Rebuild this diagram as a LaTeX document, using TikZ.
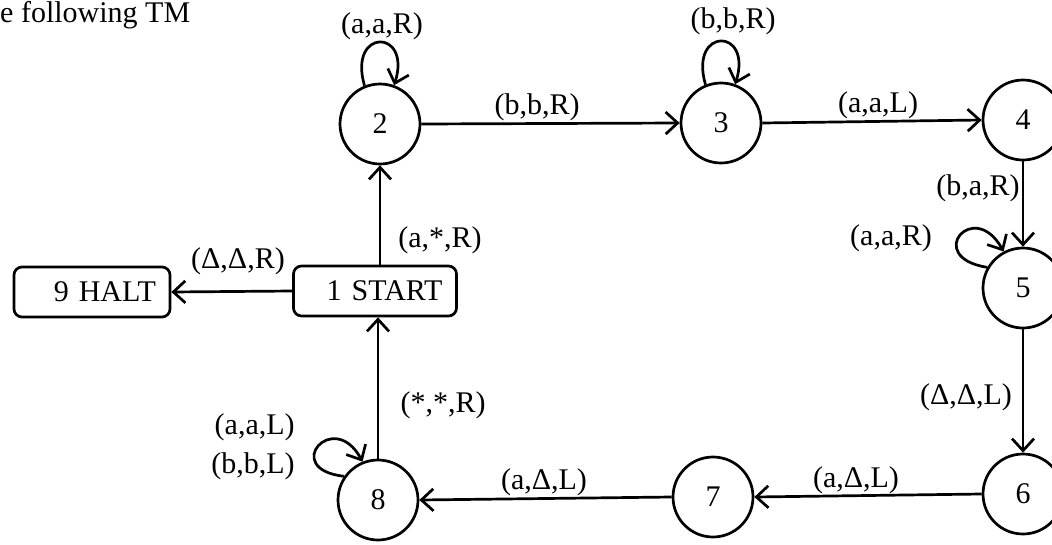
\documentclass[tikz,border=0pt]{standalone}
\usepackage{fontspec}
\setmainfont{Liberation Serif}
\usetikzlibrary{arrows.meta}
\begin{document}
\begin{tikzpicture}[x=1pt,y=-1pt,
  every node/.style={font=\fontsize{30}{39}\selectfont},
  state/.style={draw, circle, line width=2.7pt, minimum size=80pt, inner sep=0pt},
  term/.style={draw, rounded corners=8pt, line width=2.7pt, minimum height=50pt, inner xsep=14pt, inner ysep=0pt, align=right},
  arr/.style={line width=2.7pt, -{Straight Barb[length=12pt,width=22pt,line width=2.7pt]}},
  lbl/.style={inner sep=0pt}
]
\useasboundingbox (0,0) rectangle (1052,544);

\node[lbl, anchor=base west] (title) at (0,22) {e following TM};

% states
\node[state] (n2) at (380,124) {2};
\node[state] (n3) at (721,123) {3};
\node[state] (n4) at (1023,120) {4};
\node[state] (n5) at (1023,288) {5};
\node[state] (n6) at (1023,494) {6};
\node[state] (n7) at (713,497) {7};
\node[state] (n8) at (378,500) {8};
\node[term, text width=135pt] (n1) at (375,291) {1 START};
\node[term, text width=128pt] (n9) at (92,292) {9 HALT};

% straight transitions
\draw[arr] (n1.north -| n2.south) -- (n2.south);
\draw[arr] (n2.east) -- (n3.west);
\draw[arr] (n3.east) -- (n4.west);
\draw[arr] (n4.south) -- (n5.north);
\draw[arr] (n5.south) -- (n6.north);
\draw[arr] (n6.west) -- (n7.east);
\draw[arr] (n7.west) -- (n8.east);
\draw[arr] (n8.north) -- (n8.north |- n1.south);
\draw[arr] (n1.west) -- (n9.east);

% loops
\draw[arr] (n2.112) .. controls +(-17,-58) and +(18,-57) .. (n2.70);
\draw[arr] (n3.112) .. controls +(-17,-58) and +(18,-57) .. (n3.70);
\draw[arr] (n5.150) .. controls +(-64,-10) and +(-30,-54) .. (n5.118);
\draw[arr] (n8.145) .. controls +(-64,-7) and +(-29,-54) .. (n8.112);

% labels
\node[lbl] (l22) at (382,26) {(a,a,R)};
\node[lbl] (l33) at (733,21) {(b,b,R)};
\node[lbl] (l23) at (537,107) {(b,b,R)};
\node[lbl] (l34) at (878,105) {(a,a,L)};
\node[lbl] (l45) at (978,188) {(b,a,R)};
\node[lbl] (l55) at (891,238) {(a,a,R)};
\node[lbl] (l56) at (966,397) {(Δ,Δ,L)};
\node[lbl] (l67) at (856,480) {(a,Δ,L)};
\node[lbl] (l78) at (544,482) {(a,Δ,L)};
\node[lbl] (l81) at (443,405) {(*,*,R)};
\node[lbl] (l12) at (440,240) {(a,*,R)};
\node[lbl] (l19) at (238,261) {(Δ,Δ,R)};
\node[lbl, align=right] (l88) at (253,447) {(a,a,L)\\(b,b,L)};
\end{tikzpicture}
\end{document}
